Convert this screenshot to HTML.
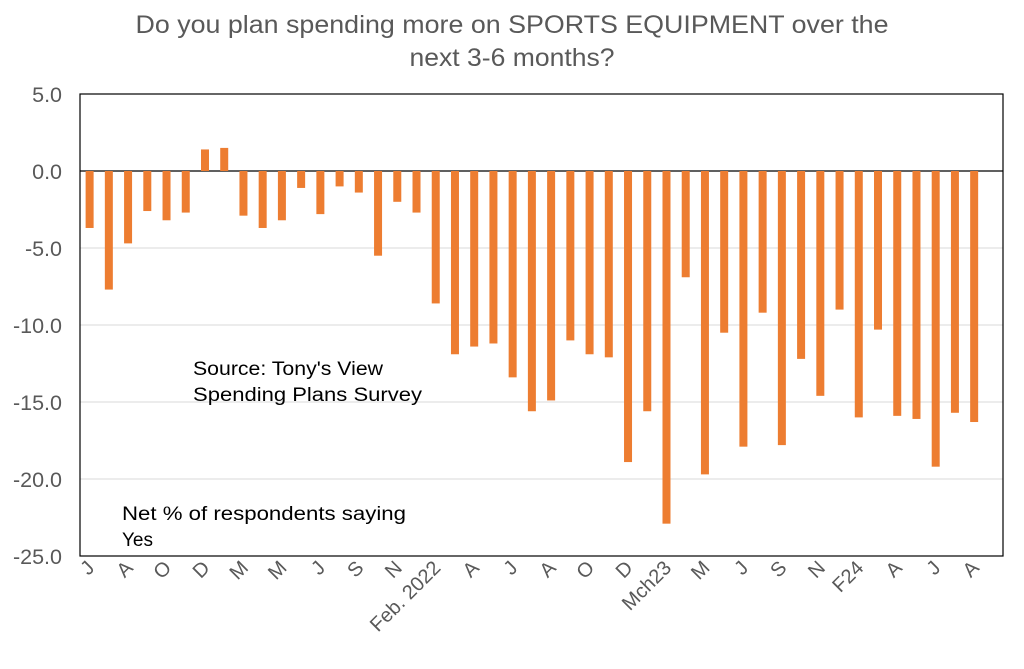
<!DOCTYPE html>
<html><head><meta charset="utf-8"><style>
body{margin:0;background:#fff;}
svg{display:block;font-family:"Liberation Sans",Arial,sans-serif;}
</style></head><body>
<svg id="chart" width="1024" height="669">
<text x="512" y="33" text-anchor="middle" font-size="25" fill="#595959" textLength="753" lengthAdjust="spacingAndGlyphs">Do you plan spending more on SPORTS EQUIPMENT over the</text>
<text x="512" y="66" text-anchor="middle" font-size="25" fill="#595959" textLength="205" lengthAdjust="spacingAndGlyphs">next 3-6 months?</text>
<g id="grid"></g><g id="bars"></g><g id="yt"></g><g id="xt"></g>
<rect x="80" y="94" width="923" height="462" fill="none" stroke="#000" stroke-width="1.2"/>
<text x="193" y="375" font-size="19" fill="#000" textLength="190" lengthAdjust="spacingAndGlyphs">Source: Tony's View</text>
<text x="193" y="401" font-size="19" fill="#000" textLength="229" lengthAdjust="spacingAndGlyphs">Spending Plans Survey</text>
<text x="122" y="520" font-size="19" fill="#000" textLength="284" lengthAdjust="spacingAndGlyphs">Net % of respondents saying</text>
<text x="122" y="546" font-size="19" fill="#000">Yes</text>
</svg>
<script>
const values=[-3.7,-7.7,-4.7,-2.6,-3.2,-2.7,1.4,1.5,-2.9,-3.7,-3.2,-1.1,-2.8,-1.0,-1.4,-5.5,-2.0,-2.7,-8.6,-11.9,-11.4,-11.2,-13.4,-15.6,-14.9,-11.0,-11.9,-12.1,-18.9,-15.6,-22.9,-6.9,-19.7,-10.5,-17.9,-9.2,-17.8,-12.2,-14.6,-9.0,-16.0,-10.3,-15.9,-16.1,-19.2,-15.7,-16.3];
const xLabels=["J","A","O","D","M","M","J","S","N","Feb. 2022","A","J","A","O","D","Mch23","M","J","S","N","F24","A","J","A"];
const yTicks=[5,0,-5,-10,-15,-20,-25];
const yTickLabels=["5.0","0.0","-5.0","-10.0","-15.0","-20.0","-25.0"];
const NS="http://www.w3.org/2000/svg";
const L=80,R=1003,T=94,B=556,yMax=5,yMin=-25,slots=48;
const y=v=>T+(yMax-v)/(yMax-yMin)*(B-T);
const sw=(R-L)/slots;
const x=i=>L+(i+0.5)*sw;
function mk(tag,parent,attrs){const e=document.createElementNS(NS,tag);for(const k in attrs)e.setAttribute(k,attrs[k]);document.getElementById(parent).appendChild(e);return e;}
yTicks.forEach((t,i)=>{
 const g=mk('line','grid',{x1:L,x2:R,y1:y(t),y2:y(t),stroke:t===0?'#000':'#d9d9d9','stroke-width':t===0?1.2:1});
 
 
 const tx=mk('text','yt',{x:L-18,y:y(t)+8,'text-anchor':'end','font-size':21.5,fill:'#595959'});
 tx.textContent=yTickLabels[i];
 
 
});
values.forEach((v,i)=>{
 const y0=y(0),yv=y(v);
 const r=mk('rect','bars',{x:x(i)-4,y:Math.min(y0,yv),width:8,height:Math.abs(yv-y0),fill:'#ED7D31'});
 
 
});
xLabels.forEach((s,j)=>{
 const cx=x(j*2)+6,cy=569;
 const t=mk('text','xt',{x:cx,y:cy,'text-anchor':'end','font-size':20,fill:'#595959',transform:`rotate(-45 ${cx} ${cy})`});
 t.textContent=s;
 
 
});
</script>
</body></html>
